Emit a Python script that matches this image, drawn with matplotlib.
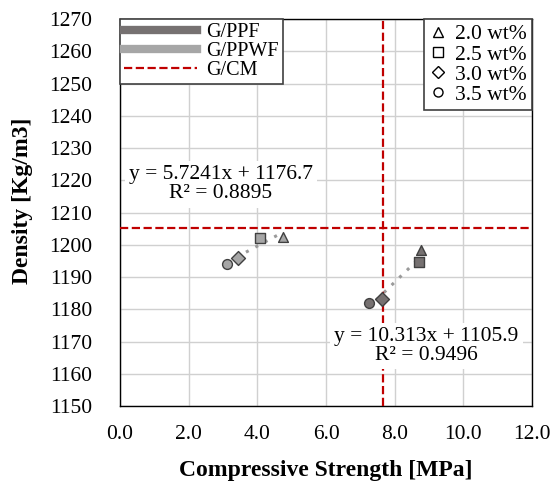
import numpy as np
import matplotlib.pyplot as plt
from matplotlib.lines import Line2D

plt.rcParams['font.family'] = ['Liberation Serif', 'DejaVu Serif']

# data
loadings = ["2.0 wt%", "2.5 wt%", "3.0 wt%", "3.5 wt%"]
markers = ["^", "s", "D", "o"]

ppwf_strength = [4.75, 4.08, 3.43, 3.12]
ppwf_density = [1202.5, 1202.2, 1196.0, 1194.0]

ppf_strength = [8.76, 8.70, 7.64, 7.24]
ppf_density = [1198.4, 1194.7, 1183.1, 1182.0]

cm_strength = 7.66
cm_density = 1205.2

fit_ppwf = [5.7241, 1176.7, 0.8895]
fit_ppf = [10.313, 1105.9, 0.9496]

c_ppf = "#767171"
c_ppwf = "#a6a6a6"
fs = 15.5

fig = plt.figure(figsize=(5.55, 4.92), dpi=100)
ax = fig.add_axes([120 / 555, 1 - 406 / 492, 412 / 555, 387 / 492])

ax.set_xlim(0, 12)
ax.set_ylim(1150, 1270)
ax.set_xticks(np.arange(0, 12.1, 2))
ax.set_yticks(np.arange(1150, 1271, 10))
ax.set_xticklabels([f"{v:.1f}" for v in np.arange(0, 12.1, 2)])
ax.grid(True, color="#d0d0d0", linewidth=1)
ax.set_axisbelow(True)
ax.tick_params(length=0, labelsize=fs)
ax.tick_params(axis="x", pad=14)
ax.tick_params(axis="y", pad=20)
for s in ax.spines.values():
    s.set_color("black")
    s.set_linewidth(1)

# trendlines
for xs, fit in [(ppwf_strength, fit_ppwf), (ppf_strength, fit_ppf)]:
    xx = np.linspace(min(xs), max(xs), 20)
    ax.plot(xx, fit[0] * xx + fit[1], linestyle=(0, (1, 2.5)), color="#9a9a9a",
            linewidth=2.2, zorder=2)

# control lines
ax.axvline(cm_strength, color="#c00000", linestyle="--", linewidth=1.6, zorder=3)
ax.axhline(cm_density, color="#c00000", linestyle="--", linewidth=1.6, zorder=3)

for i, m in enumerate(markers):
    ax.scatter(ppwf_strength[i], ppwf_density[i], marker=m, s=50, color=c_ppwf,
               edgecolor="#404040", linewidth=1, zorder=4)
    ax.scatter(ppf_strength[i], ppf_density[i], marker=m, s=50, color=c_ppf,
               edgecolor="#404040", linewidth=1, zorder=4)

for (px, py), fit in [((2.93, 1218.7), fit_ppwf), ((8.93, 1168.6), fit_ppf)]:
    ax.text(px, py, f"y = {fit[0]}x + {fit[1]}\nR² = {fit[2]}", ha="center",
            va="center", multialignment="center", fontsize=fs, linespacing=1.0,
            zorder=5, bbox=dict(facecolor="white", edgecolor="none", pad=3))

ax.set_xlabel("Compressive Strength [MPa]", fontsize=17, fontweight="bold")
ax.set_ylabel("Density [Kg/m3]", fontsize=17, fontweight="bold")
ax.xaxis.set_label_coords(0.5, -0.14)
ax.yaxis.set_label_coords(-0.21, 0.53)

h1 = [Line2D([], [], color=c_ppf, linewidth=6),
      Line2D([], [], color=c_ppwf, linewidth=6),
      Line2D([], [], color="#c00000", linestyle="--", linewidth=1.6)]
leg1 = ax.legend(h1, ["G/PPF", "G/PPWF", "G/CM"], loc="upper left", fontsize=14.5,
                 borderaxespad=0, fancybox=False, edgecolor="#404040",
                 handlelength=3.6, labelspacing=0.0, borderpad=0.2,
                 handletextpad=0.5, framealpha=1)
leg1.get_frame().set_linewidth(1.2)
ax.add_artist(leg1)

h2 = [Line2D([], [], marker=m, linestyle="none", markerfacecolor="white",
             markeredgecolor="black", markersize=6.5) for m in markers]
leg2 = ax.legend(h2, loadings, loc="upper right", fontsize=fs,
                 borderaxespad=0, fancybox=False, edgecolor="#404040",
                 handlelength=0.8, labelspacing=0.0, borderpad=0.25,
                 handletextpad=0.4, framealpha=1)
leg2.get_frame().set_linewidth(1.2)

fig.savefig("out.png", dpi=100)
